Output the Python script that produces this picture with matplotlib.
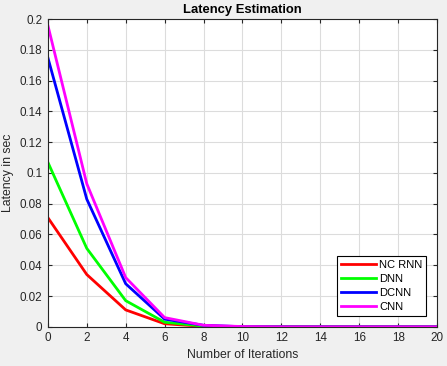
import numpy as np
import matplotlib.pyplot as plt

plt.rcParams['font.family'] = ['Liberation Sans', 'DejaVu Sans']

iterations = [0, 2, 4, 6, 8, 10, 12, 14, 16, 18, 20]
nc_rnn = [0.071, 0.034, 0.011, 0.002, 0.0003, 0, 0, 0, 0, 0, 0]
dnn = [0.107, 0.051, 0.017, 0.003, 0.0005, 0, 0, 0, 0, 0, 0]
dcnn = [0.175, 0.083, 0.028, 0.005, 0.001, 0.0001, 0, 0, 0, 0, 0]
cnn = [0.196, 0.093, 0.032, 0.006, 0.001, 0.0002, 0, 0, 0, 0, 0]

fig = plt.figure(figsize=(4.47, 3.66), dpi=100, facecolor='#f0f0f0')
ax = fig.add_axes([0.107, 0.107, 0.871, 0.841])

ax.plot(iterations, nc_rnn, color='#ff0000', lw=2, label='NC RNN')
ax.plot(iterations, dnn, color='#00ff00', lw=2, label='DNN')
ax.plot(iterations, dcnn, color='#0000ff', lw=2, label='DCNN')
ax.plot(iterations, cnn, color='#ff00ff', lw=2, label='CNN')

ax.set_xlim(0, 20)
ax.set_ylim(0, 0.2)
ax.set_xticks(np.arange(0, 21, 2))
ax.set_yticks(np.arange(0, 0.21, 0.02))
ax.set_yticklabels(['0', '0.02', '0.04', '0.06', '0.08', '0.1', '0.12', '0.14', '0.16', '0.18', '0.2'])
ax.grid(True, color='#dcdcdc', lw=0.8)
ax.tick_params(direction='in', top=True, right=True, labelsize=8.4, length=3,
               color='#262626', labelcolor='#262626', pad=4)
for s in ax.spines.values():
    s.set_color('#262626')

ax.set_xlabel('Number of Iterations', fontsize=8.8, labelpad=3, color='#262626')
ax.set_ylabel('Latency in sec', fontsize=8.8, labelpad=4, color='#262626')
ax.set_title('Latency Estimation', fontsize=9.4, fontweight='bold', pad=4)

leg = ax.legend(loc='lower right', fontsize=8, fancybox=False, edgecolor='black',
                framealpha=1, borderaxespad=1.0, handlelength=3.1,
                labelspacing=0.35, borderpad=0.35, handletextpad=0.3)
leg.get_frame().set_linewidth(0.8)

fig.savefig('out.png', dpi=100, facecolor=fig.get_facecolor())
